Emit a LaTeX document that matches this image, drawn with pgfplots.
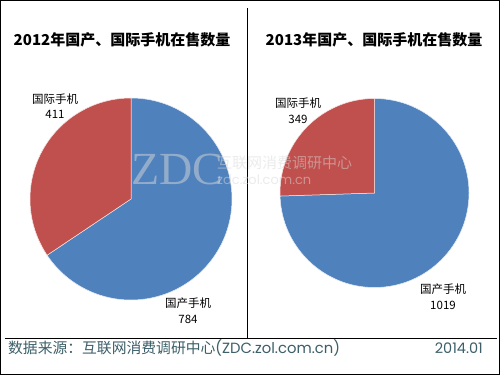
\documentclass[border=0pt]{standalone}
\usepackage{pgfplots}
\pgfplotsset{compat=1.18}
\usepackage{fontspec}
\setmainfont{Noto Sans CJK SC}
\newfontfamily\cjk{Noto Sans CJK SC}
\newfontfamily\lat{Poppins}
\newfontfamily\wmserif{Liberation Serif}
\definecolor{zblue}{HTML}{4F81BD}
\definecolor{zred}{HTML}{C0504D}
\definecolor{foot}{RGB}{60,95,105}
\definecolor{wm}{HTML}{D8D8D8}
% data
\def\dA{784}\def\iA{411}
\def\dB{1019}\def\iB{349}
\begin{document}
\begin{tikzpicture}[x=1pt,y=1pt]
\useasboundingbox (0,0) rectangle (500,375);
\fill[white] (0,0) rectangle (500,375);
\draw[black,line width=1pt] (0.5,0.5) rectangle (499.5,374.5);
\draw[line width=0.8pt] (5,37) -- (497,37);
\draw[line width=0.8pt] (247,37) -- (247,367);

\pgfmathsetmacro{\angA}{90+360*(\iA/(\iA+\dA))}
\pgfmathsetmacro{\angB}{90+360*(\iB/(\iB+\dB))}

\begin{axis}[at={(131pt,176pt)}, anchor=center, scale only axis,
  width=202pt, height=202pt, xmin=-1, xmax=1, ymin=-1, ymax=1,
  hide axis, clip=false]
\fill[zblue, draw=white!85!zblue, line width=0.5pt] (axis cs:0,0) -- (axis cs:0,1)
  arc[start angle=90, end angle=\angA-360, radius=101pt] -- cycle;
\fill[zred, draw=white!85!zred, line width=0.5pt] (axis cs:0,0) -- (axis cs:0,1)
  arc[start angle=90, end angle=\angA, radius=101pt] -- cycle;
\end{axis}

\begin{axis}[at={(374.5pt,182pt)}, anchor=center, scale only axis,
  width=189pt, height=189pt, xmin=-1, xmax=1, ymin=-1, ymax=1,
  hide axis, clip=false]
\fill[zblue, draw=white!85!zblue, line width=0.5pt] (axis cs:0,0) -- (axis cs:0,1)
  arc[start angle=90, end angle=\angB-360, radius=94.5pt] -- cycle;
\fill[zred, draw=white!85!zred, line width=0.5pt] (axis cs:0,0) -- (axis cs:0,1)
  arc[start angle=90, end angle=\angB, radius=94.5pt] -- cycle;
\end{axis}

% watermark
\node[anchor=west, text=wm, opacity=0.5, font=\wmserif\fontsize{46}{46}\selectfont, inner sep=0] at (131,206) {ZDC};
\node[anchor=west, text=wm, opacity=0.5, font=\cjk\fontsize{15}{15}\selectfont, inner sep=0] at (217,212) {互联网消费调研中心};
\node[anchor=west, text=wm, opacity=0.5, font=\lat\fontsize{13}{13}\selectfont, inner sep=0] at (217,195) {zdc.zol.com.cn};

% titles
\node[font=\cjk\bfseries\fontsize{15}{15}\selectfont] at (122,335) {2012年国产、国际手机在售数量};
\node[font=\cjk\bfseries\fontsize{15}{15}\selectfont] at (374,335) {2013年国产、国际手机在售数量};

% labels
\node[font=\cjk\fontsize{11.5}{12}\selectfont] at (55,276) {国际手机};
\node[font=\cjk\fontsize{11.5}{12}\selectfont] at (55,261) {\iA};
\node[font=\cjk\fontsize{11.5}{12}\selectfont] at (188,72) {国产手机};
\node[font=\cjk\fontsize{11.5}{12}\selectfont] at (188,56) {\dA};
\node[font=\cjk\fontsize{11.5}{12}\selectfont] at (298,272) {国际手机};
\node[font=\cjk\fontsize{11.5}{12}\selectfont] at (298,256) {\iB};
\node[font=\cjk\fontsize{11.5}{12}\selectfont] at (443,86) {国产手机};
\node[font=\cjk\fontsize{11.5}{12}\selectfont] at (443,70) {\dB};

% footer
\node[anchor=west, text=foot, inner sep=0, font=\cjk\fontsize{14.8}{15}\selectfont] at (8,27) {数据来源：互联网消费调研中心{\lat(ZDC.zol.com.cn)}};
\node[anchor=east, text=foot, inner sep=0, font=\lat\fontsize{14.5}{15}\selectfont] at (483,27) {2014.01};
\end{tikzpicture}
\end{document}
